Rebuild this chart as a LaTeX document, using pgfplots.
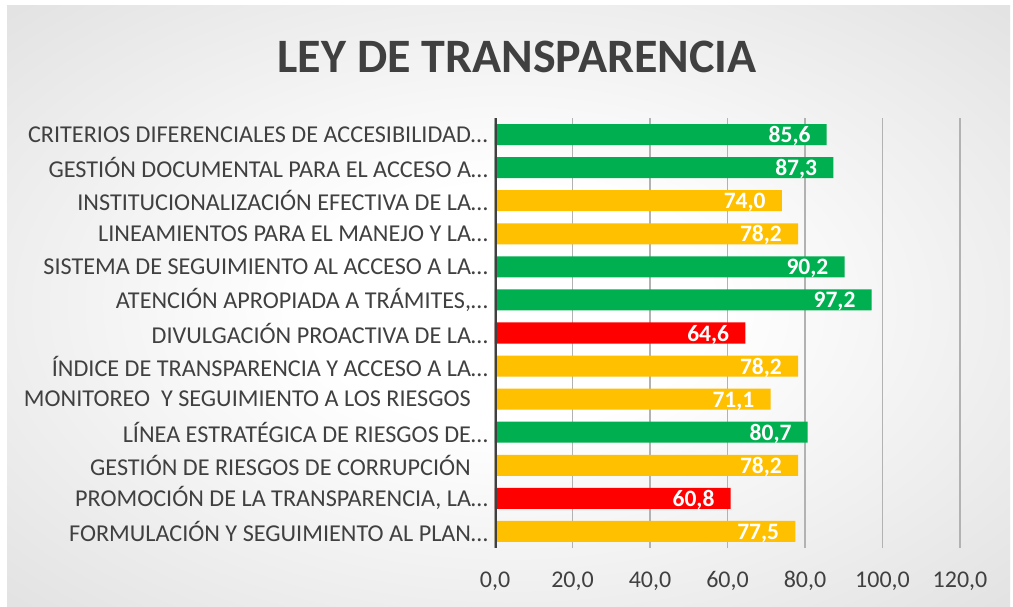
\documentclass[border=0pt]{standalone}
\usepackage{fontspec}
\setmainfont{Carlito}
\usepackage{pgfplots}
\pgfplotsset{compat=1.18}
\definecolor{bggray}{RGB}{192,192,192}
\definecolor{txt}{RGB}{64,64,64}
\definecolor{cgreen}{RGB}{0,176,80}
\definecolor{cyellow}{RGB}{255,192,0}
\definecolor{cred}{RGB}{255,0,0}
\definecolor{gridc}{RGB}{178,178,178}
\pgfdeclareradialshading{bgshade}{\pgfpoint{0bp}{0bp}}{color(0bp)=(white);color(10bp)=(white);color(66bp)=(bggray);color(100bp)=(bggray)}
\begin{document}
\begin{tikzpicture}
\fill[white] (0pt,0pt) rectangle (1013pt,606pt);
\shade[shading=bgshade] (7pt,0pt) rectangle (1010pt,600pt);
\node[font=\fontsize{48}{52}\selectfont\bfseries, text=txt] at (517pt,549pt) {LEY DE TRANSPARENCIA};
\begin{axis}[
  at={(495pt,58pt)}, anchor=south west,
  scale only axis, width=465pt, height=430pt,
  xmin=0, xmax=120, ymin=-0.5, ymax=12.5,
  xbar, bar width=21pt, bar shift=0pt,
  xtick={0,20,...,120}, ytick={0,...,12},
  yticklabels={
    FORMULACIÓN Y SEGUIMIENTO AL PLAN…,
    {PROMOCIÓN DE LA TRANSPARENCIA, LA…},
    GESTIÓN DE RIESGOS DE CORRUPCIÓN\hspace*{17pt},
    LÍNEA ESTRATÉGICA DE RIESGOS DE…,
    MONITOREO\ \ Y SEGUIMIENTO A LOS RIESGOS\hspace*{17pt},
    ÍNDICE DE TRANSPARENCIA Y ACCESO A LA…,
    DIVULGACIÓN PROACTIVA DE LA…,
    {ATENCIÓN APROPIADA A TRÁMITES,…},
    SISTEMA DE SEGUIMIENTO AL ACCESO A LA…,
    LINEAMIENTOS PARA EL MANEJO Y LA…,
    INSTITUCIONALIZACIÓN EFECTIVA DE LA…,
    GESTIÓN DOCUMENTAL PARA EL ACCESO A…,
    CRITERIOS DIFERENCIALES DE ACCESIBILIDAD…},
  xmajorgrids, grid style={gridc, line width=1.5pt},
  axis line style={draw=none},
  major tick length=0pt,
  tick label style={font=\fontsize{24}{27}\selectfont, text=txt},
  yticklabel style={font=\fontsize{24.2}{27}\selectfont, inner sep=3pt, xshift=-4pt},
  xticklabel={\pgfmathprintnumber[fixed,fixed zerofill,precision=1,use comma,assume math mode=true]{\tick}},
  xticklabel style={anchor=base, yshift=-39pt},
  point meta=x,
  nodes near coords={\pgfmathprintnumber[fixed,fixed zerofill,precision=1,use comma,assume math mode=true]{\pgfplotspointmeta}},
  every node near coord/.append style={anchor=base east, inner sep=0pt, xshift=-16pt, yshift=-8pt, text=white, font=\fontsize{23.5}{26}\selectfont\bfseries},
]
\addplot[fill=cgreen, draw=none, bar shift=0pt] coordinates {(85.6,12) (87.3,11) (90.2,8) (97.2,7) (80.7,3)};
\addplot[fill=cyellow, draw=none, bar shift=0pt] coordinates {(74.0,10) (78.2,9) (78.2,5) (71.1,4) (78.2,2) (77.5,0)};
\addplot[fill=cred, draw=none, bar shift=0pt] coordinates {(64.6,6) (60.8,1)};
\draw[txt, line width=3.5pt] (axis cs:0,-0.5) -- (axis cs:0,12.5);
\end{axis}
\end{tikzpicture}
\end{document}
